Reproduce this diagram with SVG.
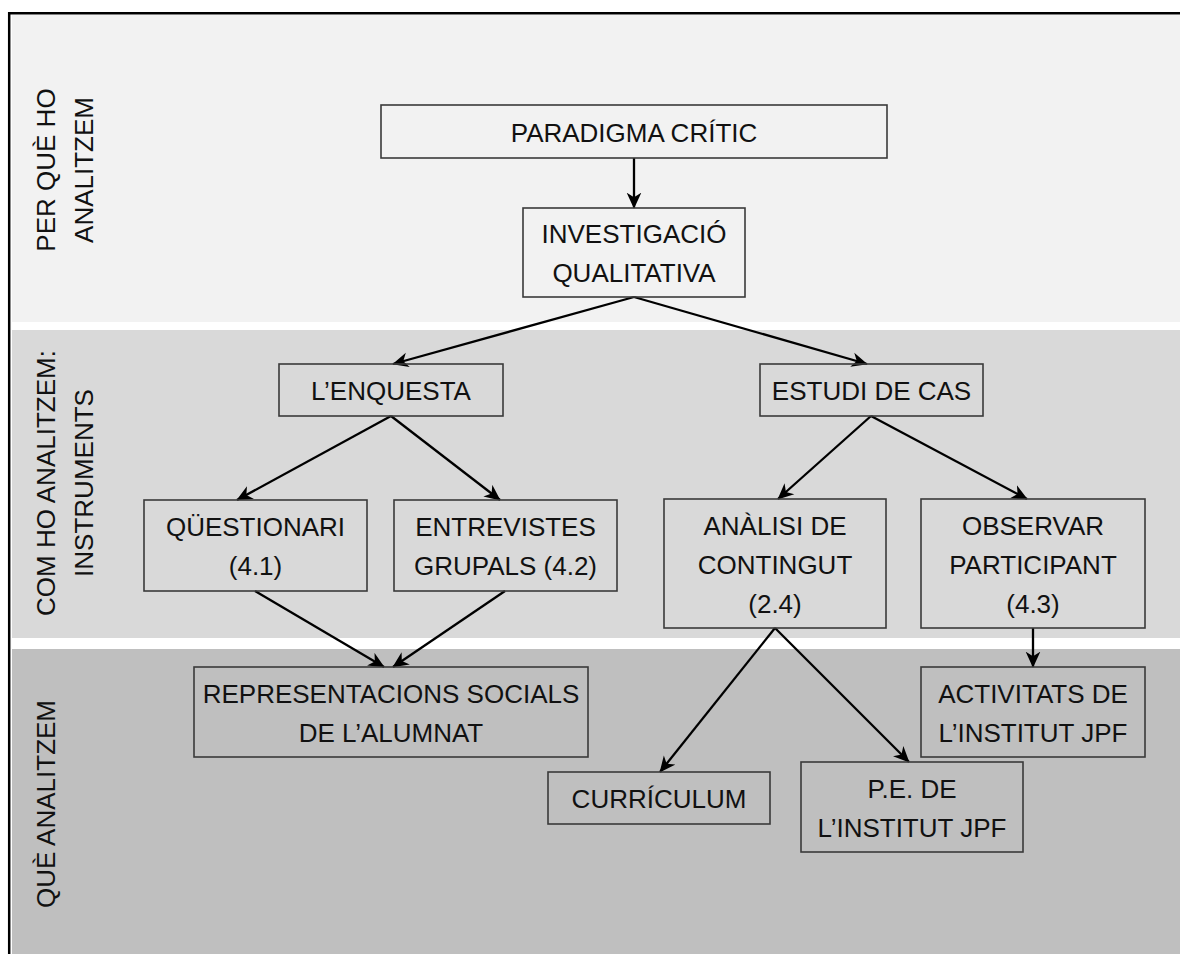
<svg xmlns="http://www.w3.org/2000/svg" width="1180" height="954" viewBox="0 0 1180 954">
<style>
.box{fill:none;stroke:#3a3a3a;stroke-width:1.6}
.t{font-family:"Liberation Sans",Arial,sans-serif;font-size:26px;fill:#111;text-anchor:middle}
.lbl{font-family:"Liberation Sans",Arial,sans-serif;font-size:26px;fill:#111;text-anchor:middle}
.c{stroke:#000;stroke-width:2.3;fill:none;marker-end:url(#ah)}
</style>
<defs>
<marker id="ah" viewBox="0 0 12 12" refX="11.5" refY="6" markerWidth="16" markerHeight="16" markerUnits="userSpaceOnUse" orient="auto">
<path d="M0,0.5 L12,6 L0,11.5 L3.5,6 z" fill="#000"/>
</marker>
</defs>
<rect x="0" y="0" width="1180" height="954" fill="#fff"/>
<g id="bands">
<rect x="12" y="15" width="1168" height="307" fill="#f2f2f2"/>
<rect x="12" y="330" width="1168" height="308" fill="#d9d9d9"/>
<rect x="12" y="649" width="1168" height="305" fill="#bfbfbf"/>
<line x1="9.2" y1="12" x2="9.2" y2="954" stroke="#000" stroke-width="2.5"/>
<line x1="8" y1="13.2" x2="1180" y2="13.2" stroke="#000" stroke-width="2.5"/>
</g>
<g id="band-labels">
<g transform="translate(55,170) rotate(-90)"><text class="lbl" x="0" y="0">PER QUÈ HO</text></g>
<g transform="translate(93,170) rotate(-90)"><text class="lbl" x="0" y="0">ANALITZEM</text></g>
<g transform="translate(55,483) rotate(-90)"><text class="lbl" x="0" y="0">COM HO ANALITZEM:</text></g>
<g transform="translate(93,483) rotate(-90)"><text class="lbl" x="0" y="0">INSTRUMENTS</text></g>
<g transform="translate(55,804) rotate(-90)"><text class="lbl" x="0" y="0">QUÈ ANALITZEM</text></g>
</g>
<g id="connectors">
<line class="c" x1="634" y1="158" x2="634" y2="208"/>
<line class="c" x1="634" y1="297" x2="393" y2="364"/>
<line class="c" x1="634" y1="297" x2="867" y2="364"/>
<line class="c" x1="391" y1="416" x2="237" y2="500"/>
<line class="c" x1="391" y1="416" x2="500" y2="500"/>
<line class="c" x1="871" y1="416" x2="778" y2="499"/>
<line class="c" x1="871" y1="416" x2="1027" y2="499"/>
<line class="c" x1="255" y1="591" x2="384" y2="667"/>
<line class="c" x1="505" y1="591" x2="393" y2="667"/>
<line class="c" x1="775" y1="628" x2="660" y2="772"/>
<line class="c" x1="775" y1="628" x2="909" y2="762"/>
<line class="c" x1="1033" y1="628" x2="1033" y2="667"/>
</g>
<g id="n-paradigma"><rect class="box" x="381" y="105" width="506" height="53"/><text class="t" x="634" y="141.5">PARADIGMA CRÍTIC</text></g>
<g id="n-investigacio"><rect class="box" x="523" y="208" width="222" height="89"/><text class="t" x="634" y="243">INVESTIGACIÓ</text><text class="t" x="634" y="282">QUALITATIVA</text></g>
<g id="n-enquesta"><rect class="box" x="279" y="364" width="224" height="52"/><text class="t" x="391" y="400">L’ENQUESTA</text></g>
<g id="n-estudi"><rect class="box" x="760" y="364" width="223" height="52"/><text class="t" x="871.5" y="400">ESTUDI DE CAS</text></g>
<g id="n-questionari"><rect class="box" x="144" y="500" width="223" height="91"/><text class="t" x="255.5" y="536">QÜESTIONARI</text><text class="t" x="255.5" y="575">(4.1)</text></g>
<g id="n-entrevistes"><rect class="box" x="394" y="500" width="223" height="91"/><text class="t" x="505.5" y="536">ENTREVISTES</text><text class="t" x="505.5" y="575">GRUPALS (4.2)</text></g>
<g id="n-analisi"><rect class="box" x="664" y="499" width="222" height="129"/><text class="t" x="775" y="534.5">ANÀLISI DE</text><text class="t" x="775" y="573.5">CONTINGUT</text><text class="t" x="775" y="612.5">(2.4)</text></g>
<g id="n-observar"><rect class="box" x="921" y="499" width="224" height="129"/><text class="t" x="1033" y="534.5">OBSERVAR</text><text class="t" x="1033" y="573.5">PARTICIPANT</text><text class="t" x="1033" y="612.5">(4.3)</text></g>
<g id="n-representacions"><rect class="box" x="194" y="667" width="394" height="90"/><text class="t" x="391" y="702.5">REPRESENTACIONS SOCIALS</text><text class="t" x="391" y="741.5">DE L’ALUMNAT</text></g>
<g id="n-activitats"><rect class="box" x="921" y="667" width="224" height="90"/><text class="t" x="1033" y="702.5">ACTIVITATS DE</text><text class="t" x="1033" y="741.5">L’INSTITUT JPF</text></g>
<g id="n-curriculum"><rect class="box" x="548" y="772" width="222" height="52"/><text class="t" x="659" y="808">CURRÍCULUM</text></g>
<g id="n-pe"><rect class="box" x="801" y="762" width="222" height="90"/><text class="t" x="912" y="797.5">P.E. DE</text><text class="t" x="912" y="836.5">L’INSTITUT JPF</text></g>
</svg>
